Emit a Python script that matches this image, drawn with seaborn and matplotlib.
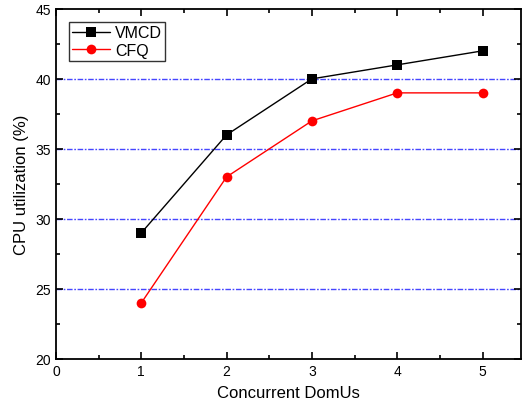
import matplotlib
matplotlib.use("Agg")
import matplotlib.pyplot as plt
import seaborn as sns
import pandas as pd
from matplotlib.ticker import MultipleLocator

domus = [1, 2, 3, 4, 5]
vmcd = [29, 36, 40, 41, 42]
cfq = [24, 33, 37, 39, 39]

df = pd.DataFrame({
    "DomUs": domus * 2,
    "CPU": vmcd + cfq,
    "Scheduler": ["VMCD"] * len(vmcd) + ["CFQ"] * len(cfq),
})

sns.set_style("ticks")
plt.rcParams['font.family'] = ['Liberation Sans', 'DejaVu Sans']
plt.rcParams['text.color'] = 'black'
plt.rcParams['axes.labelcolor'] = 'black'
plt.rcParams['xtick.color'] = 'black'
plt.rcParams['ytick.color'] = 'black'
plt.rcParams['axes.edgecolor'] = 'black'

fig = plt.figure(figsize=(5.23, 4.10), dpi=100)
ax = fig.add_axes([0.107, 0.122, 0.889, 0.854])

for y in [25, 30, 35, 40]:
    ax.axhline(y, color="#4646ff", lw=1.0, ls=(0, (4, 1.2, 1.2, 1.2)), zorder=0)

sns.lineplot(data=df, x="DomUs", y="CPU", hue="Scheduler", style="Scheduler",
             palette={"VMCD": "black", "CFQ": "red"},
             markers={"VMCD": "s", "CFQ": "o"}, dashes=False,
             markersize=7, markeredgewidth=0, linewidth=1, ax=ax)

ax.set_xlim(0, 5.45)
ax.set_ylim(20, 45)
ax.xaxis.set_major_locator(MultipleLocator(1))
ax.xaxis.set_minor_locator(MultipleLocator(0.5))
ax.yaxis.set_major_locator(MultipleLocator(5))
ax.yaxis.set_minor_locator(MultipleLocator(2.5))
ax.tick_params(which="both", direction="in", top=True, right=True, labelsize=10,
               width=1.2, colors="black")
ax.tick_params(which="major", length=5)
ax.tick_params(which="minor", length=3)
for s in ax.spines.values():
    s.set_linewidth(1.3)
    s.set_color("black")
ax.set_xlabel("Concurrent DomUs", fontsize=12, labelpad=5)
ax.set_ylabel("CPU utilization (%)", fontsize=12, labelpad=5)

leg = ax.legend(loc="upper left", bbox_to_anchor=(0.021, 0.971), fontsize=11.5,
                frameon=True, fancybox=False, edgecolor="black",
                handlelength=2.4, borderpad=0.2, labelspacing=0.15, handletextpad=0.3,
                borderaxespad=0.2)
leg.get_frame().set_linewidth(1.0)

fig.savefig("out.png", dpi=100)
